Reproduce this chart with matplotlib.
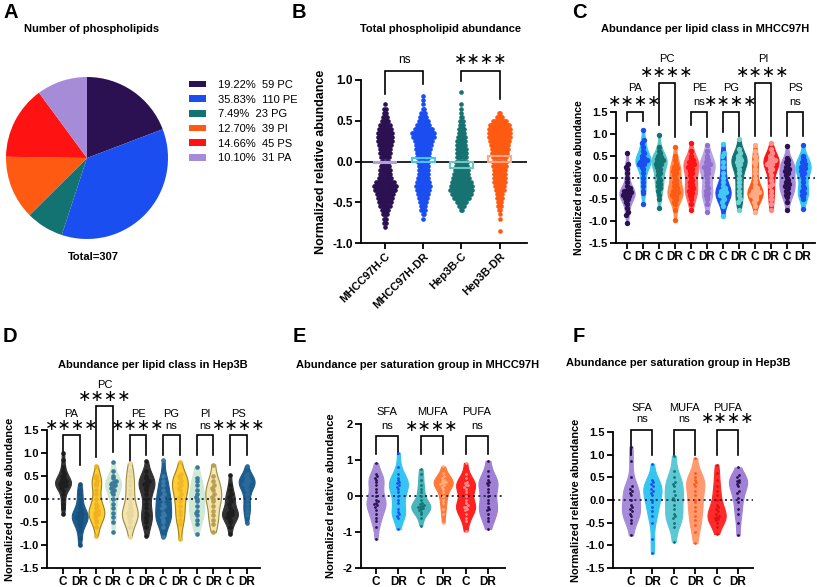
import numpy as np
import matplotlib
matplotlib.use('Agg')
import matplotlib.pyplot as plt
from matplotlib.patches import Patch

plt.rcParams['font.family'] = ['Liberation Sans', 'DejaVu Sans']
plt.rcParams['axes.unicode_minus'] = False

W, H = 817, 587

# ---------------- data ----------------
# A: number of phospholipids per class
pie_classes = ['PC', 'PE', 'PG', 'PI', 'PS', 'PA']
pie_counts = [59, 110, 23, 39, 45, 31]

# B: lipids per 0.05 bin of normalized abundance (-0.85 .. 0.85)
b_groups = ['MHCC97H-C', 'MHCC97H-DR', 'Hep3B-C', 'Hep3B-DR']
b_levels = [-0.85, -0.80, -0.75, -0.70, -0.65, -0.60, -0.55, -0.50, -0.45, -0.40,
            -0.35, -0.30, -0.25, -0.20, -0.15, -0.10, -0.05, 0.00, 0.05, 0.10,
            0.15, 0.20, 0.25, 0.30, 0.35, 0.40, 0.45, 0.50, 0.55, 0.60,
            0.65, 0.70, 0.75, 0.80, 0.85]
b_counts_mh_c = [0, 1, 2, 3, 5, 7, 9, 11, 13, 15, 18, 20, 16, 12, 10, 9, 8, 8, 8, 9,
                 10, 12, 13, 14, 13, 11, 9, 7, 5, 3, 2, 1, 0, 0, 0]
b_counts_mh_dr = [0, 0, 0, 1, 2, 4, 5, 6, 8, 10, 12, 13, 11, 10, 9, 9, 9, 10, 11, 12,
                  13, 14, 16, 19, 20, 16, 12, 9, 6, 4, 2, 1, 1, 1, 0]
b_counts_hep_c = [0, 0, 0, 0, 0, 2, 5, 9, 14, 18, 20, 19, 17, 15, 13, 12, 11, 10, 9, 9,
                  9, 8, 8, 7, 6, 5, 4, 3, 2, 1, 1, 1, 0, 0, 1]
b_counts_hep_dr = [1, 0, 0, 1, 1, 2, 3, 4, 5, 6, 8, 9, 10, 11, 11, 11, 12, 12, 13, 14,
                   15, 16, 17, 19, 20, 20, 18, 12, 6, 2, 0, 0, 0, 0, 0]
b_means = [-0.02, 0.04, -0.08, 0.07]
b_sig = ['ns', '****']

# C / D: per lipid class, control (C) vs drug resistant (DR)
classes = ['PA', 'PC', 'PE', 'PG', 'PI', 'PS']
c_data = [
    [-1.05, -0.85, -0.8, -0.7, -0.6, -0.55, -0.5, -0.48, -0.45, -0.42, -0.4, -0.38, -0.37, -0.35,
     -0.35, -0.33, -0.3, -0.3, -0.28, -0.25, -0.2, -0.1, 0.0, 0.1, 0.2, 0.25, 0.3, 0.55],
    [-0.6, -0.35, -0.3, -0.2, -0.1, 0.0, 0.1, 0.2, 0.25, 0.3, 0.32, 0.35, 0.36, 0.38, 0.4, 0.4,
     0.42, 0.45, 0.5, 0.55, 0.6, 0.7, 0.8, 0.85, 1.08],
    [-0.7, -0.5, -0.4, -0.3, -0.25, -0.2, -0.15, -0.1, -0.05, 0.0, 0.05, 0.1, 0.15, 0.2, 0.25,
     0.28, 0.3, 0.32, 0.35, 0.37, 0.4, 0.4, 0.42, 0.45, 0.48, 0.5, 0.55, 0.6, 0.7, 0.97],
    [-0.97, -0.75, -0.6, -0.55, -0.5, -0.45, -0.42, -0.4, -0.38, -0.35, -0.33, -0.3, -0.28, -0.25,
     -0.2, -0.15, -0.1, -0.05, 0.0, 0.05, 0.1, 0.15, 0.2, 0.22, 0.25, 0.3, 0.4, 0.5, 0.7],
    [-0.75, -0.6, -0.5, -0.45, -0.4, -0.35, -0.3, -0.3, -0.25, -0.2, -0.15, -0.1, -0.05, 0.0, 0.05,
     0.1, 0.15, 0.2, 0.25, 0.25, 0.3, 0.3, 0.35, 0.35, 0.4, 0.45, 0.5, 0.6, 0.8],
    [-0.8, -0.6, -0.5, -0.45, -0.4, -0.35, -0.3, -0.25, -0.2, -0.1, 0.0, 0.05, 0.1, 0.15, 0.2,
     0.25, 0.25, 0.3, 0.3, 0.35, 0.4, 0.45, 0.5, 0.6, 0.75],
    [-0.88, -0.65, -0.55, -0.5, -0.45, -0.4, -0.38, -0.35, -0.33, -0.3, -0.28, -0.25, -0.2, -0.1,
     0.0, 0.1, 0.25, 0.35, 0.5, 0.55, 0.77],
    [-0.75, -0.55, -0.5, -0.4, -0.3, -0.2, -0.1, 0.0, 0.1, 0.2, 0.28, 0.3, 0.35, 0.38, 0.4, 0.42,
     0.45, 0.5, 0.55, 0.65, 0.88],
    [-0.8, -0.65, -0.55, -0.5, -0.45, -0.42, -0.4, -0.38, -0.36, -0.35, -0.34, -0.33, -0.3, -0.28,
     -0.25, -0.2, -0.1, 0.0, 0.1, 0.2, 0.3, 0.35, 0.4, 0.5, 0.6, 0.75],
    [-0.75, -0.6, -0.5, -0.4, -0.3, -0.2, -0.15, -0.05, 0.05, 0.15, 0.2, 0.25, 0.3, 0.32, 0.35,
     0.36, 0.38, 0.4, 0.42, 0.45, 0.5, 0.55, 0.65, 0.8],
    [-0.75, -0.55, -0.45, -0.4, -0.35, -0.3, -0.25, -0.2, -0.18, -0.15, -0.1, -0.05, 0.0, 0.05,
     0.1, 0.15, 0.18, 0.2, 0.25, 0.3, 0.35, 0.4, 0.45, 0.72],
    [-0.72, -0.5, -0.45, -0.4, -0.35, -0.3, -0.25, -0.2, -0.1, 0.0, 0.05, 0.1, 0.15, 0.2, 0.22,
     0.25, 0.28, 0.3, 0.35, 0.4, 0.45, 0.5, 0.75],
]
c_sig = ['****', '****', 'ns', '****', '****', 'ns']

d_data = [
    [-0.32, -0.2, -0.1, 0.0, 0.1, 0.2, 0.25, 0.28, 0.3, 0.3, 0.32, 0.35, 0.35, 0.38, 0.4, 0.42,
     0.45, 0.5, 0.55, 0.6, 0.7, 0.85, 1.0],
    [-1.0, -0.85, -0.7, -0.6, -0.55, -0.5, -0.45, -0.42, -0.4, -0.38, -0.35, -0.32, -0.3, -0.25,
     -0.2, -0.1, 0.0, 0.1, 0.2, 0.32],
    [-0.8, -0.6, -0.5, -0.45, -0.4, -0.35, -0.32, -0.3, -0.28, -0.25, -0.2, -0.15, -0.1, 0.0, 0.1,
     0.2, 0.3, 0.35, 0.4, 0.45, 0.5, 0.72],
    [-0.72, -0.5, -0.4, -0.3, -0.2, -0.1, 0.0, 0.1, 0.15, 0.2, 0.25, 0.28, 0.3, 0.32, 0.35, 0.38,
     0.4, 0.45, 0.5, 0.6, 0.8],
    [-0.82, -0.6, -0.5, -0.45, -0.4, -0.35, -0.3, -0.3, -0.25, -0.2, -0.1, 0.0, 0.1, 0.2, 0.3, 0.4,
     0.5, 0.6, 0.78],
    [-0.8, -0.6, -0.5, -0.45, -0.4, -0.35, -0.3, -0.2, -0.1, 0.0, 0.1, 0.2, 0.25, 0.3, 0.32, 0.35,
     0.38, 0.4, 0.45, 0.5, 0.6, 0.82],
    [-0.82, -0.6, -0.5, -0.45, -0.4, -0.35, -0.3, -0.2, -0.15, -0.1, 0.0, 0.05, 0.1, 0.2, 0.3, 0.4,
     0.5, 0.85],
    [-0.88, -0.55, -0.45, -0.35, -0.25, -0.15, -0.05, 0.05, 0.1, 0.2, 0.25, 0.3, 0.35, 0.4, 0.45,
     0.5, 0.55, 0.8],
    [-0.75, -0.55, -0.45, -0.35, -0.3, -0.25, -0.15, -0.05, 0.0, 0.05, 0.1, 0.2, 0.3, 0.4, 0.45, 0.7],
    [-0.72, -0.55, -0.45, -0.35, -0.25, -0.15, -0.05, 0.0, 0.05, 0.1, 0.2, 0.25, 0.3, 0.4, 0.5, 0.75],
    [-0.75, -0.6, -0.5, -0.45, -0.4, -0.38, -0.35, -0.32, -0.3, -0.28, -0.25, -0.2, -0.1, -0.05,
     0.0, 0.05, 0.1, 0.2, 0.3, 0.52],
    [-0.52, -0.35, -0.25, -0.2, -0.1, 0.0, 0.1, 0.2, 0.25, 0.3, 0.32, 0.35, 0.38, 0.4, 0.42, 0.45,
     0.5, 0.55, 0.72],
]
d_sig = ['****', '****', '****', 'ns', 'ns', '****']

# E / F: per saturation group
sat_groups = ['SFA', 'MUFA', 'PUFA']
e_data = [
    [-1.2, -0.85, -0.7, -0.6, -0.5, -0.4, -0.3, -0.25, -0.22, -0.2, -0.15, -0.1, 0.0, 0.1, 0.2,
     0.3, 0.4, 0.45, 0.5, 0.55, 0.6, 0.92],
    [-0.92, -0.6, -0.55, -0.5, -0.45, -0.35, -0.2, -0.1, 0.0, 0.1, 0.2, 0.25, 0.3, 0.35, 0.4,
     0.45, 0.5, 0.6, 0.8, 1.2],
    [-0.82, -0.6, -0.5, -0.45, -0.4, -0.35, -0.33, -0.3, -0.3, -0.28, -0.25, -0.22, -0.2, -0.1,
     0.0, 0.1, 0.2, 0.3, 0.45, 0.6, 0.75],
    [-0.75, -0.5, -0.35, -0.2, -0.1, 0.0, 0.1, 0.2, 0.25, 0.3, 0.32, 0.35, 0.38, 0.4, 0.42, 0.45,
     0.5, 0.55, 0.65, 0.82],
    [-0.98, -0.7, -0.6, -0.5, -0.4, -0.35, -0.3, -0.3, -0.25, -0.2, -0.1, 0.0, 0.1, 0.2, 0.25,
     0.3, 0.3, 0.35, 0.4, 0.5, 0.6, 0.92],
    [-0.92, -0.7, -0.6, -0.5, -0.4, -0.35, -0.3, -0.2, -0.1, 0.0, 0.1, 0.2, 0.3, 0.35, 0.4, 0.45,
     0.55, 0.7, 0.98],
]
e_sig = ['ns', '****', 'ns']

f_data = [
    [-0.78, -0.5, -0.45, -0.35, -0.3, -0.25, -0.2, -0.15, -0.1, 0.0, 0.1, 0.15, 0.2, 0.25, 0.3,
     0.5, 0.85, 1.18],
    [-1.18, -0.85, -0.5, -0.35, -0.25, -0.15, -0.05, 0.0, 0.1, 0.15, 0.2, 0.25, 0.3, 0.35, 0.4,
     0.45, 0.8],
    [-0.92, -0.6, -0.5, -0.4, -0.35, -0.3, -0.2, -0.1, 0.0, 0.05, 0.1, 0.2, 0.3, 0.35, 0.4, 0.5,
     0.65, 0.98],
    [-0.95, -0.7, -0.55, -0.45, -0.35, -0.25, -0.15, -0.05, 0.0, 0.1, 0.2, 0.3, 0.35, 0.4, 0.45,
     0.5, 0.6, 0.92],
    [-0.75, -0.6, -0.5, -0.45, -0.42, -0.4, -0.38, -0.35, -0.3, -0.25, -0.2, -0.15, -0.1, 0.0,
     0.1, 0.2, 0.3, 0.45, 0.6, 0.78],
    [-0.78, -0.5, -0.3, -0.2, -0.05, 0.05, 0.15, 0.2, 0.3, 0.35, 0.4, 0.42, 0.45, 0.5, 0.55, 0.72],
]
f_sig = ['ns', 'ns', '****']

# ---------------- colours ----------------
DPURP, BLUE, TEAL, ORANGE, RED, LAV = '#2b1052', '#1a4ef0', '#137272', '#ff5a12', '#ff1212', '#a68bd8'
LBLUE, LTEAL = '#35c5f0', '#5cc4c4'
pie_colors = [DPURP, BLUE, TEAL, ORANGE, RED, LAV]
b_colors = [DPURP, BLUE, '#177272', ORANGE]
b_mean_colors = ['#b39ce0', '#45c8f0', '#6cc8c8', '#ffa585']

c_face = [LAV, LBLUE, LTEAL, '#ff8a4a', '#ff6a6a', '#b9a3e3',
          BLUE, TEAL, ORANGE, RED, LAV, LBLUE]
c_pts = [DPURP, BLUE, TEAL, ORANGE, RED, '#9070cc',
         '#40c8f0', '#70d0d0', '#ffab85', '#ff8a8a', DPURP, BLUE]

DGRAY, DBLUE, YEL, MINT, PALE = '#333333', '#1b5c8c', '#ffcc33', '#cfe9d6', '#f3e4b0'
d_face = [DGRAY, DBLUE, YEL, MINT, PALE, DGRAY, DBLUE, YEL, MINT, PALE, DGRAY, DBLUE]
d_edge = [DGRAY, DBLUE, '#9a8020', MINT, '#9a8a40', DGRAY, DBLUE, '#9a8020', MINT, '#9a8a40', DGRAY, DBLUE]
d_pts = ['#1e1e1e', '#17507c', '#f0b020', '#3a7a9a', '#e8d8a0', '#1e1e1e',
         '#3a78a8', '#f0b828', '#3a7a9a', '#b8a050', '#1e1e1e', '#2a6a9a']

e_face = [LAV, LBLUE, '#48b4bc', '#ff7a3a', '#ff2020', '#9f80d4']
e_pts = [DPURP, BLUE, TEAL, '#ffb080', '#ff9090', DPURP]
f_face = [LAV, LBLUE, '#5cc8d4', '#ff9a70', '#ff2a2a', '#a080d4']
f_pts = [DPURP, BLUE, TEAL, ORANGE, '#e01010', DPURP]


# ---------------- helpers ----------------
def px_ax(l, t, r, b):
    return fig.add_axes([l / W, 1 - b / H, (r - l) / W, (b - t) / H])


def fig_text(x, y, s, **kw):
    fig.text(x / W, 1 - y / H, s, **kw)


def style_ax(ax, xlim, ylim, yticks, fmt='%.1f', fs=8):
    ax.set_xlim(xlim)
    ax.set_ylim(ylim)
    ax.set_yticks(yticks, labels=[fmt % v for v in yticks], fontweight='bold', fontsize=fs)
    ax.spines[['top', 'right']].set_visible(False)
    ax.spines[['left', 'bottom']].set_linewidth(1.3)
    ax.tick_params(width=1.3, length=4, pad=2)


def swarm_x(vals, binw, step, maxw):
    vals = np.asarray(vals)
    xs = np.zeros(len(vals))
    bins = np.round(vals / binw).astype(int)
    for b in np.unique(bins):
        idx = np.where(bins == b)[0]
        off = (np.arange(len(idx)) - (len(idx) - 1) / 2) * step
        xs[idx] = np.clip(off, -maxw, maxw)
    return xs


def violins(ax, data, face, pts, edge=None, width=0.9, ms=12, step=0.1):
    parts = ax.violinplot(data, positions=range(len(data)), widths=width,
                          showextrema=False, bw_method=0.38, points=200)
    edge = edge or face
    for body, fc, ec in zip(parts['bodies'], face, edge):
        body.set_facecolor(fc)
        body.set_edgecolor(ec)
        body.set_alpha(1)
        body.set_linewidth(0.8)
    ax.axhline(0, color='#14143c', ls=(0, (1.2, 2)), lw=1.2, zorder=2.5)
    for i, g in enumerate(data):
        ax.scatter(i + swarm_x(g, 0.09, step, width * 0.3), g, s=ms, color=pts[i],
                   linewidths=0, zorder=3)


def bracket(ax, x0, top, yl, yr, sig, name, sig_dy, name_dy, fs=8):
    ax.plot([x0, x0, x0 + 1, x0 + 1], [yl, top, top, yr], color='black', lw=1.2,
            clip_on=False, solid_joinstyle='miter')
    xm = x0 + 0.5
    if sig == 'ns':
        ax.text(xm, top + sig_dy, 'ns', ha='center', va='center', fontsize=fs, clip_on=False)
    else:
        ax.text(xm, top + sig_dy, '\u2217\u2217\u2217\u2217', ha='center', va='center',
                fontsize=11.5, family='DejaVu Sans', clip_on=False)
    if name:
        ax.text(xm, top + name_dy, name, ha='center', va='center', fontsize=fs, clip_on=False)


def cdr_ticks(ax, n, fs=8):
    ax.set_xticks(range(n), labels=['C', 'DR'] * (n // 2), fontweight='bold', fontsize=fs)


fig = plt.figure(figsize=(W / 100, H / 100), dpi=100)

# panel letters and titles
for lab, x, y in [('A', 3, 13), ('B', 292, 13), ('C', 572, 13),
                  ('D', 3, 337), ('E', 293, 337), ('F', 573, 337)]:
    fig_text(x, y, lab, fontsize=14.5, fontweight='bold', va='center', ha='left')
tfs = 8
fig_text(24, 29, 'Number of phospholipids', fontsize=tfs, fontweight='bold', va='center')
fig_text(441, 29, 'Total phospholipid abundance', fontsize=tfs, fontweight='bold', va='center', ha='center')
fig_text(705, 29, 'Abundance per lipid class in MHCC97H', fontsize=tfs, fontweight='bold', va='center', ha='center')
fig_text(153, 365, 'Abundance per lipid class in Hep3B', fontsize=tfs, fontweight='bold', va='center', ha='center')
fig_text(418, 365, 'Abundance per saturation group in MHCC97H', fontsize=tfs, fontweight='bold', va='center', ha='center')
fig_text(678, 363, 'Abundance per saturation group in Hep3B', fontsize=tfs, fontweight='bold', va='center', ha='center')

# ---------------- A ----------------
axA = px_ax(6, 77, 168, 239)
axA.pie(pie_counts, colors=pie_colors, startangle=90, counterclock=False, radius=1,
        wedgeprops=dict(linewidth=0))
axA.set_xlim(-1, 1)
axA.set_ylim(-1, 1)
axA.set_aspect('equal')
total = sum(pie_counts)
handles = [Patch(facecolor=c, edgecolor='none') for c in pie_colors]
labels = [f'{100 * n / total:.2f}%  {n} {k}' for n, k in zip(pie_counts, pie_classes)]
fig.legend(handles, labels, loc='upper left', bbox_to_anchor=(189 / W, 1 - 80 / H),
           frameon=False, fontsize=8, handlelength=1.5, handleheight=0.55,
           handletextpad=1.1, labelspacing=0.42, borderpad=0, borderaxespad=0)
fig_text(93, 257, f'Total={total}', fontsize=tfs, fontweight='bold', ha='center', va='center')

# ---------------- B ----------------
axB = px_ax(361, 80, 527, 243)
b_counts = [b_counts_mh_c, b_counts_mh_dr, b_counts_hep_c, b_counts_hep_dr]
for i, counts in enumerate(b_counts):
    xs, ys = [], []
    for lev, n in zip(b_levels, counts):
        off = (np.arange(n) - (n - 1) / 2) * 0.03
        xs.extend(i + off)
        ys.extend([lev] * n)
    axB.scatter(xs, ys, s=11, color=b_colors[i], linewidths=0, zorder=2)
axB.bar(range(4), b_means, width=0.6, fill=False, edgecolor=b_mean_colors, lw=1.5, zorder=3)
axB.axhline(0, color='black', lw=1.2, zorder=2.5)
style_ax(axB, (-0.63, 3.72), (-1, 1), [-1, -0.5, 0, 0.5, 1], fs=8.5)
axB.set_xticks(range(4), labels=b_groups, rotation=45, ha='right', rotation_mode='anchor',
               fontweight='bold', fontsize=8)
axB.set_ylabel('Normalized relative abundance', fontweight='bold', fontsize=9, labelpad=4)
bracket(axB, 0, 1.11, 0.83, 0.95, b_sig[0], None, 0.14, 0, fs=8.5)
bracket(axB, 2, 1.11, 0.99, 0.77, b_sig[1], None, 0.14, 0)

# ---------------- C ----------------
axC = px_ax(616, 112, 815, 243)
violins(axC, c_data, c_face, c_pts, width=0.95, ms=15, step=0.11)
style_ax(axC, (-0.69, 11.75), (-1.5, 1.5), [-1.5, -1.0, -0.5, 0, 0.5, 1.0, 1.5])
cdr_ticks(axC, 12, fs=8.5)
axC.set_ylabel('Normalized relative abundance', fontweight='bold', fontsize=7.6, labelpad=3)
c_br = [(1.5, 1.3, 1.3), (2.16, 1.2, 0.93), (1.5, 1.2, 0.93),
        (1.5, 1.05, 0.93), (2.16, 0.95, 0.95), (1.5, 0.95, 0.95)]
for k, (top, yl, yr) in enumerate(c_br):
    bracket(axC, 2 * k, top, yl, yr, c_sig[k], classes[k], 0.24, 0.56)

# ---------------- D ----------------
axD = px_ax(47, 430, 260, 568)
violins(axD, d_data, d_face, d_pts, edge=d_edge, width=0.95, ms=11, step=0.1)
style_ax(axD, (-0.96, 11.8), (-1.5, 1.5), [-1.5, -1.0, -0.5, 0, 0.5, 1.0, 1.5])
cdr_ticks(axD, 12, fs=8.5)
axD.set_ylabel('Normalized relative abundance', fontweight='bold', fontsize=7.9, labelpad=3)
d_br = [(1.39, 0.96, 0.74), (2.02, 0.91, 1.03), (1.39, 0.82, 0.96),
        (1.39, 0.96, 0.96), (1.39, 0.96, 0.96), (1.39, 0.74, 0.96)]
for k, (top, yl, yr) in enumerate(d_br):
    bracket(axD, 2 * k, top, yl, yr, d_sig[k], classes[k], 0.2, 0.46)

# ---------------- E ----------------
axE = px_ax(361, 424, 505, 568)
violins(axE, e_data, e_face, e_pts, width=0.85, ms=4, step=0.09)
style_ax(axE, (-0.67, 5.76), (-2, 2), [-2, -1, 0, 1, 2], fmt='%d')
cdr_ticks(axE, 6, fs=8.5)
axE.set_ylabel('Normalized relative abundance', fontweight='bold', fontsize=8, labelpad=5)
for k in range(3):
    bracket(axE, 2 * k, 1.67, 1.17, 1.17, e_sig[k], sat_groups[k], 0.27, 0.65)

# ---------------- F ----------------
axF = px_ax(613, 432, 753, 568)
violins(axF, f_data, f_face, f_pts, width=0.85, ms=4, step=0.09)
style_ax(axF, (-0.84, 5.7), (-1.5, 1.5), [-1.5, -1.0, -0.5, 0, 0.5, 1.0, 1.5])
cdr_ticks(axF, 6, fs=8.5)
axF.set_ylabel('Normalized relative abundance', fontweight='bold', fontsize=7.9, labelpad=3)
for k in range(3):
    bracket(axF, 2 * k, 1.54, 0.99, 0.99, f_sig[k], sat_groups[k], 0.25, 0.49)

fig.savefig('out.png', dpi=100)
